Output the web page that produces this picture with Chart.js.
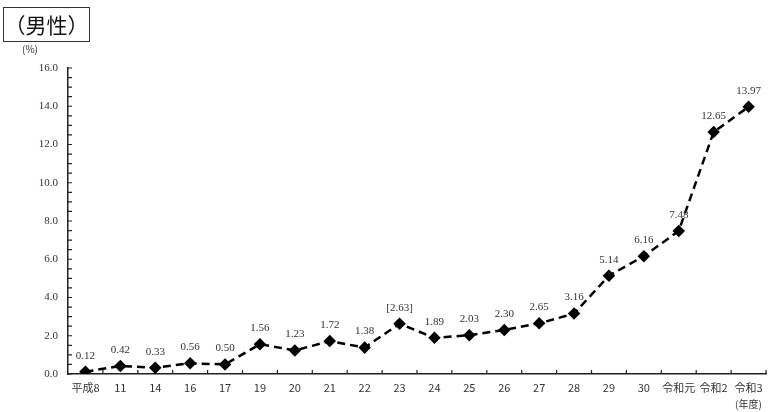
<!DOCTYPE html>
<html>
<head>
<meta charset="utf-8">
<script src="https://cdn.jsdelivr.net/npm/chart.js@4.4.0/dist/chart.umd.min.js"></script>
<style>
  body { margin: 0; background: #fff; }
  #wrap { position: relative; width: 780px; height: 412px; }
  #title {
    position: absolute; left: 3px; top: 7px; width: 87px; height: 35px;
    border: 1px solid #333; box-sizing: border-box;
    font: 21px "Noto Sans CJK JP", sans-serif; color: #111;
    text-align: center; line-height: 33px;
  }
  .note { position: absolute; font: 10px "Noto Sans CJK JP", sans-serif; color: #333; }
</style>
</head>
<body>
<div id="wrap">
  <canvas id="myChart" width="780" height="412"></canvas>
  <div id="title">（男性）</div>
  <div class="note" style="left:22px; top:41px;">(%)</div>
  <div class="note" style="left:735px; top:396px;">(年度)</div>
</div>
<script>
const categories = ["平成8", "11", "14", "16", "17", "19", "20", "21", "22", "23",
  "24", "25", "26", "27", "28", "29", "30", "令和元", "令和2", "令和3"];
const values = [0.12, 0.42, 0.33, 0.56, 0.50, 1.56, 1.23, 1.72, 1.38, 2.63,
  1.89, 2.03, 2.30, 2.65, 3.16, 5.14, 6.16, 7.48, 12.65, 13.97];
const pointLabels = ["0.12", "0.42", "0.33", "0.56", "0.50", "1.56", "1.23", "1.72", "1.38", "[2.63]",
  "1.89", "2.03", "2.30", "2.65", "3.16", "5.14", "6.16", "7.48", "12.65", "13.97"];
const yTicks = [0, 2, 4, 6, 8, 10, 12, 14, 16];
const yMinorStep = 0.5;

// tick marks point into the plot, and point labels sit above each marker
const extras = {
  id: 'extras',
  afterDatasetsDraw(chart) {
    const ctx = chart.ctx;
    const x = chart.scales.x, y = chart.scales.y;
    const area = chart.chartArea;
    ctx.save();
    ctx.strokeStyle = '#222';
    ctx.lineWidth = 1.2;
    ctx.beginPath();
    for (let v = 0; v <= 16; v += yMinorStep) {
      const py = y.getPixelForValue(v);
      ctx.moveTo(area.left, py);
      ctx.lineTo(area.left + 4, py);
    }
    const step = x.getPixelForValue(1) - x.getPixelForValue(0);
    for (let i = 0; i < categories.length; i++) {
      const px = x.getPixelForValue(i) + step / 2;
      ctx.moveTo(px, area.bottom);
      ctx.lineTo(px, area.bottom - 4);
    }
    ctx.stroke();

    ctx.fillStyle = '#333';
    ctx.font = '11px "Liberation Serif", serif';
    ctx.textAlign = 'center';
    ctx.textBaseline = 'middle';
    chart.getDatasetMeta(0).data.forEach((pt, i) => {
      ctx.fillText(pointLabels[i], pt.x, pt.y - 16);
    });
    ctx.restore();
  }
};

new Chart(document.getElementById('myChart'), {
  type: 'line',
  data: {
    labels: categories,
    datasets: [{
      data: values,
      borderColor: '#000',
      backgroundColor: '#000',
      borderWidth: 2.5,
      borderDash: [8, 5],
      pointStyle: 'rectRot',
      pointRadius: 4.5,
      tension: 0
    }]
  },
  options: {
    responsive: false,
    animation: false,
    layout: { padding: { left: 0, top: 68, right: 14, bottom: 0 } },
    plugins: { legend: { display: false }, tooltip: { enabled: false } },
    scales: {
      x: {
        offset: true,
        grid: { display: false, drawTicks: false },
        border: { color: '#222', width: 1.5 },
        ticks: {
          color: '#333', padding: 7, autoSkip: false, maxRotation: 0,
          font: { size: 11, family: '"Noto Sans CJK JP", sans-serif' }
        },
        afterFit(scale) { scale.height = 38; }
      },
      y: {
        min: 0, max: 16,
        afterBuildTicks(scale) { scale.ticks = yTicks.map(v => ({ value: v })); },
        grid: { display: false, drawTicks: false },
        border: { color: '#222', width: 1.5 },
        ticks: {
          color: '#333', padding: 10,
          font: { size: 11, family: '"Liberation Serif", serif' },
          callback: v => v.toFixed(1)
        },
        afterFit(scale) { scale.width = 68; }
      }
    }
  },
  plugins: [extras]
});
</script>
</body>
</html>
